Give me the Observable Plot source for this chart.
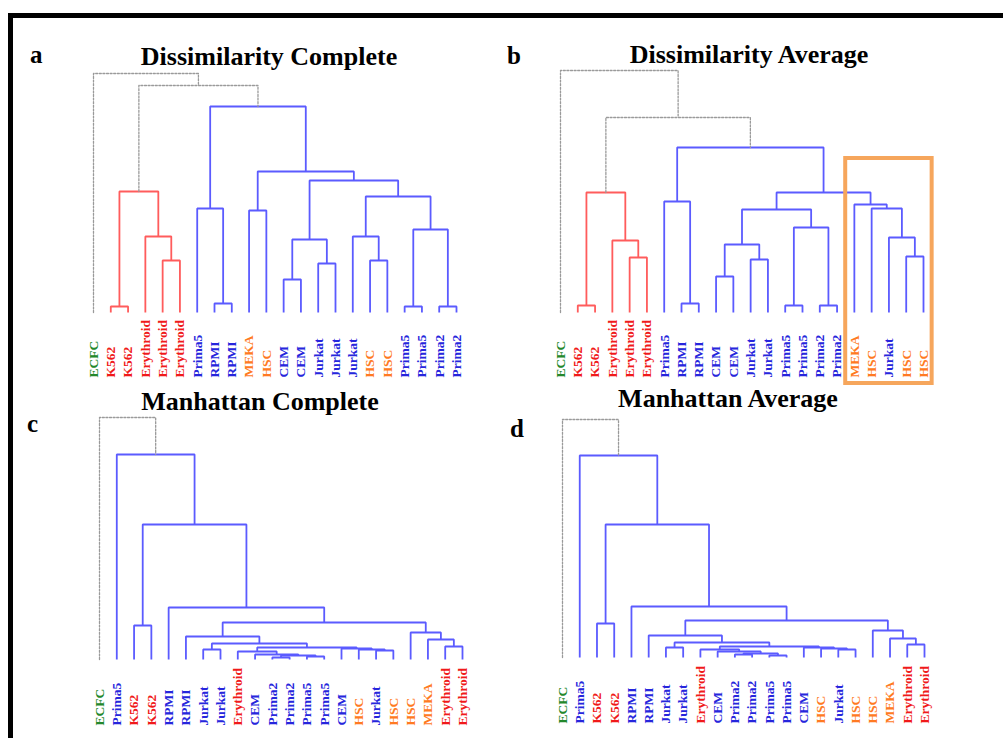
<!DOCTYPE html>
<html><head><meta charset="utf-8">
<script src="https://cdn.jsdelivr.net/npm/d3@7"></script>
<script src="https://cdn.jsdelivr.net/npm/@observablehq/plot@0.6"></script>
<style>
html,body{margin:0;padding:0;background:#fff;}
body{width:1003px;height:738px;overflow:hidden;position:relative;font-family:"Liberation Serif","DejaVu Serif",serif;}
#frame{position:absolute;left:8px;top:13px;width:1200px;height:900px;border-left:5px solid #000;border-top:5px solid #000;box-sizing:border-box;}
.panel{position:absolute;}
.title{position:absolute;font-weight:bold;font-size:26px;line-height:1;white-space:nowrap;transform:translateX(-50%);color:#000;}
.letter{position:absolute;font-weight:bold;font-size:25px;line-height:1;color:#000;}
</style></head><body>
<div id="frame"></div>
<div class="letter" style="left:30px;top:42px">a</div>
<div class="letter" style="left:507px;top:43px">b</div>
<div class="letter" style="left:27px;top:411px">c</div>
<div class="letter" style="left:510px;top:416px">d</div>
<div class="title" style="left:269px;top:44px">Dissimilarity Complete</div>
<div class="title" style="left:749px;top:42px">Dissimilarity Average</div>
<div class="title" style="left:260px;top:389px">Manhattan Complete</div>
<div class="title" style="left:728px;top:386px">Manhattan Average</div>
<div id="pa" class="panel" style="left:0;top:0"></div>
<div id="pb" class="panel" style="left:500px;top:0"></div>
<div id="pc" class="panel" style="left:0;top:390px"></div>
<div id="pd" class="panel" style="left:500px;top:390px"></div>
<script>
// ---------- data ----------
const labelsA = ["ECFC","K562","K562","Erythroid","Erythroid","Erythroid","Prima5","RPMI","RPMI","MEKA","HSC","CEM","CEM","Jurkat","Jurkat","Jurkat","HSC","HSC","Prima5","Prima5","Prima2","Prima2"];
// merges: [childA, childB, height, branch colour key]; negative = leaf (1-based), positive = earlier merge (1-based)
const mergesA = [
  [-2,-3,6,"r"],[-5,-6,52,"r"],[-4,2,76,"r"],[1,3,121,"r"],
  [-8,-9,9,"b"],[-7,5,104,"b"],[-10,-11,102,"b"],[-12,-13,33,"b"],[-14,-15,49,"b"],[8,9,73,"b"],
  [-17,-18,52,"b"],[-16,11,76,"b"],[-19,-20,6,"b"],[-21,-22,6,"b"],[13,14,83,"b"],[12,15,116,"b"],
  [10,16,132,"b"],[7,17,141,"b"],[6,18,206,"b"],[4,19,227,"g"],[-1,20,239,"g"]
];
const labelsB = ["ECFC","K562","K562","Erythroid","Erythroid","Erythroid","Prima5","RPMI","RPMI","CEM","CEM","Jurkat","Jurkat","Prima5","Prima5","Prima2","Prima2","MEKA","HSC","Jurkat","HSC","HSC"];
const mergesB = [
  [-2,-3,7,"r"],[-5,-6,55,"r"],[-4,2,72,"r"],[1,3,120,"r"],
  [-8,-9,9,"b"],[-7,5,111,"b"],[-10,-11,36,"b"],[-12,-13,53,"b"],[7,8,68,"b"],
  [-14,-15,7,"b"],[-16,-17,7,"b"],[10,11,85,"b"],[9,12,103,"b"],
  [-21,-22,56,"b"],[-20,14,75,"b"],[-19,15,104,"b"],[-18,16,108,"b"],[13,17,120,"b"],
  [6,18,165,"b"],[4,19,195,"g"],[-1,20,242,"g"]
];
const highlightB = [{first:18, last:22, top:154}];
const labelsC = ["ECFC","Prima5","K562","K562","RPMI","RPMI","Jurkat","Jurkat","Erythroid","CEM","Prima2","Prima2","Prima5","Prima5","CEM","HSC","Jurkat","HSC","HSC","MEKA","Erythroid","Erythroid"];
const mergesC = [
  [-3,-4,34,"b"],[-7,-8,10,"b"],[-11,-12,2,"b"],[-13,-14,3,"b"],[3,4,4,"b"],[-10,5,5,"b"],[-9,6,8,"b"],
  [-17,-18,9,"b"],[-16,8,10,"b"],[-15,9,11,"b"],[7,10,12,"b"],[2,11,16,"b"],[-6,12,23,"b"],
  [-21,-22,13,"b"],[-20,14,20,"b"],[-19,15,27,"b"],[13,16,37,"b"],[-5,17,52,"b"],
  [1,18,135,"b"],[-2,19,205,"b"],[-1,20,242,"g"]
];
const labelsD = ["ECFC","Prima5","K562","K562","RPMI","RPMI","Jurkat","Jurkat","Erythroid","CEM","Prima2","Prima2","Prima5","Prima5","CEM","HSC","Jurkat","HSC","HSC","MEKA","Erythroid","Erythroid"];
const mergesD = [
  [-3,-4,34,"b"],[-7,-8,10,"b"],[-11,-12,3,"b"],[-13,-14,2,"b"],[3,4,4,"b"],[-10,5,6,"b"],[-9,6,8,"b"],
  [-17,-18,8,"b"],[-16,8,9,"b"],[-15,9,10,"b"],[7,10,11,"b"],[2,11,15,"b"],[-6,12,22,"b"],
  [-21,-22,13,"b"],[-20,14,19,"b"],[-19,15,27,"b"],[13,16,37,"b"],[-5,17,51,"b"],
  [1,18,133,"b"],[-2,19,202,"b"],[-1,20,238,"g"]
];

// ---------- styles ----------
const labelColor = {ECFC:"#23882b", K562:"#f01a1a", Erythroid:"#f01a1a", Prima5:"#2626dc", Prima2:"#2626dc", RPMI:"#2626dc", CEM:"#2626dc", Jurkat:"#2626dc", MEKA:"#ff7a22", HSC:"#ff7a22"};
const branchColor = {r:"#ff5c5c", b:"#5b5bff", g:"#9a9a9a"};

function build(labels, merges) {
  const nodes = [];
  const pos = ref => ref < 0 ? {x: -ref, h: 0} : nodes[ref - 1];
  const pts = [];
  merges.forEach(([a, b, h, k], i) => {
    const A = pos(a), B = pos(b);
    nodes.push({x: (A.x + B.x) / 2, h});
    pts.push({m: i, k, x: A.x, y: A.h}, {m: i, k, x: A.x, y: h}, {m: i, k, x: B.x, y: h}, {m: i, k, x: B.x, y: B.h});
  });
  return pts;
}

function panel(id, cfg) {
  const pts = build(cfg.labels, cfg.merges);
  const leaves = cfg.labels.map((t, i) => ({i: i + 1, t, h: 0, c: labelColor[t]}));
  const marks = [
    Plot.line(pts.filter(p => p.k !== "g"), {x: "x", y: "y", z: "m", stroke: d => branchColor[d.k], strokeWidth: 1.8, strokeLinejoin: "miter", strokeLinecap: "butt"}),
    Plot.line(pts.filter(p => p.k === "g"), {x: "x", y: "y", z: "m", stroke: branchColor.g, strokeWidth: 1.3, strokeDasharray: "2,1.6"}),
    Plot.text(leaves, {x: "i", y: "h", text: "t", fill: "c", rotate: -90, textAnchor: "start", lineAnchor: "middle", dy: cfg.dy, fontSize: 13.5, fontWeight: "bold", fontFamily: "Liberation Serif"})
  ];
  if (cfg.highlight) {
    marks.push(Plot.rect(cfg.highlight, {x1: d => d.first - 0.5, x2: d => d.last + 0.5, y1: () => 0, y2: "top", fill: "none", stroke: "#f6a65c", strokeWidth: 4, insetBottom: -71}));
  }
  const n = cfg.labels.length;
  const chart = Plot.plot({
    width: cfg.w, height: cfg.h,
    x: {domain: [1, n], range: cfg.xr, axis: null},
    y: {domain: [0, 250], range: [cfg.yb, cfg.yb - 250], axis: null},
    color: {type: "identity"},
    style: {background: "transparent", overflow: "visible"},
    marks
  });
  document.getElementById(id).appendChild(chart);
}

panel("pa", {labels: labelsA, merges: mergesA, w: 500, h: 390, xr: [93, 456], yb: 312, dy: 65});
panel("pb", {labels: labelsB, merges: mergesB, w: 503, h: 390, xr: [60, 423], yb: 312, dy: 65, highlight: highlightB});
panel("pc", {labels: labelsC, merges: mergesC, w: 500, h: 348, xr: [99, 462], yb: 269, dy: 66});
panel("pd", {labels: labelsD, merges: mergesD, w: 503, h: 348, xr: [62, 424], yb: 267, dy: 66});
</script>
</body></html>
